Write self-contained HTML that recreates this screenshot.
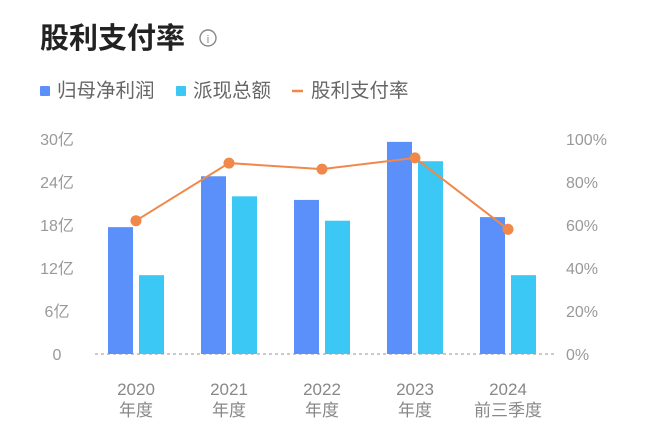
<!DOCTYPE html>
<html><head><meta charset="utf-8">
<style>
body{margin:0;background:#fff;font-family:"Liberation Sans","Noto Sans CJK SC",sans-serif;}
#wrap{position:relative;width:666px;height:436px;overflow:hidden;}
</style></head>
<body>
<div id="wrap">
<svg id="chart" width="666" height="436">
<text x="40" y="48" font-size="29" font-weight="bold" fill="#222">股利支付率</text>
<g>
<circle cx="208" cy="38" r="8" fill="none" stroke="#888" stroke-width="1.4"/>
<text x="208" y="43" font-size="11" text-anchor="middle" fill="#888">i</text>
</g>
<g>
<rect x="40" y="86" width="10" height="10" rx="1" fill="#5b8ff9"/>
<text x="57" y="97" font-size="19.5" fill="#666">归母净利润</text></g>
<g>
<rect x="176" y="86" width="10" height="10" rx="1" fill="#3cc8f5"/>
<text x="193" y="97" font-size="19.5" fill="#666">派现总额</text></g>
<g>
<line x1="292" y1="91" x2="303" y2="91" stroke="#f0884a" stroke-width="2.5"/>
<text x="311" y="97" font-size="19.5" fill="#666">股利支付率</text></g>
<g id="plot"></g>
</svg>
</div>
<script>
const categories=["2020","2021","2022","2023","2024"];
const subLabels=["年度","年度","年度","年度","前三季度"];
const netProfit=[17.7,24.8,21.5,29.6,19.1];
const dividends=[11.0,22.0,18.6,26.9,11.0];
const payoutRatio=[62,88.8,86,91.2,58];
const leftTicks=[0,6,12,18,24,30];
const rightTicks=[0,20,40,60,80,100];

const NS="http://www.w3.org/2000/svg";
const g=document.getElementById('plot');
const x0=89.5,step=93,yBase=354,yTop=139;
const yL=v=>yBase-(v/30)*(yBase-yTop);
const yR=v=>yBase-(v/100)*(yBase-yTop);
const xc=i=>x0+step*i+step/2;
function mk(t,a){const e=document.createElementNS(NS,t);for(const k in a)e.setAttribute(k,a[k]);g.appendChild(e);return e;}

leftTicks.forEach(v=>{const t=mk('text',{x:57,y:yL(v)+6,'font-size':16,fill:'#999','text-anchor':'middle'});t.textContent=v===0?'0':v+'亿';

});
rightTicks.forEach(v=>{const t=mk('text',{x:566,y:yR(v)+6,'font-size':16,fill:'#999'});t.textContent=v+'%';

});
const base=mk('line',{x1:95,y1:yBase,x2:555,y2:yBase,stroke:'#aaa','stroke-dasharray':'3,3','stroke-width':1.2});



categories.forEach((c,i)=>{
 const b1=mk('rect',{x:xc(i)-28,y:yL(netProfit[i]),width:25,height:yBase-yL(netProfit[i]),fill:'#5b8ff9'});
 
 
 const b2=mk('rect',{x:xc(i)+3,y:yL(dividends[i]),width:25,height:yBase-yL(dividends[i]),fill:'#3cc8f5'});
 
 
 const t1=mk('text',{x:xc(i),y:395,'font-size':17,fill:'#888','text-anchor':'middle'});t1.textContent=c;
 
 
 const t2=mk('text',{x:xc(i),y:416,'font-size':17,fill:'#888','text-anchor':'middle'});t2.textContent=subLabels[i];
 
 
});
const pts=payoutRatio.map((v,i)=>xc(i)+','+yR(v)).join(' ');
const pl=mk('polyline',{points:pts,fill:'none',stroke:'#f0884a','stroke-width':2});


payoutRatio.forEach((v,i)=>{const c=mk('circle',{cx:xc(i),cy:yR(v),r:5.5,fill:'#f0884a'});

});
</script>
</body></html>
